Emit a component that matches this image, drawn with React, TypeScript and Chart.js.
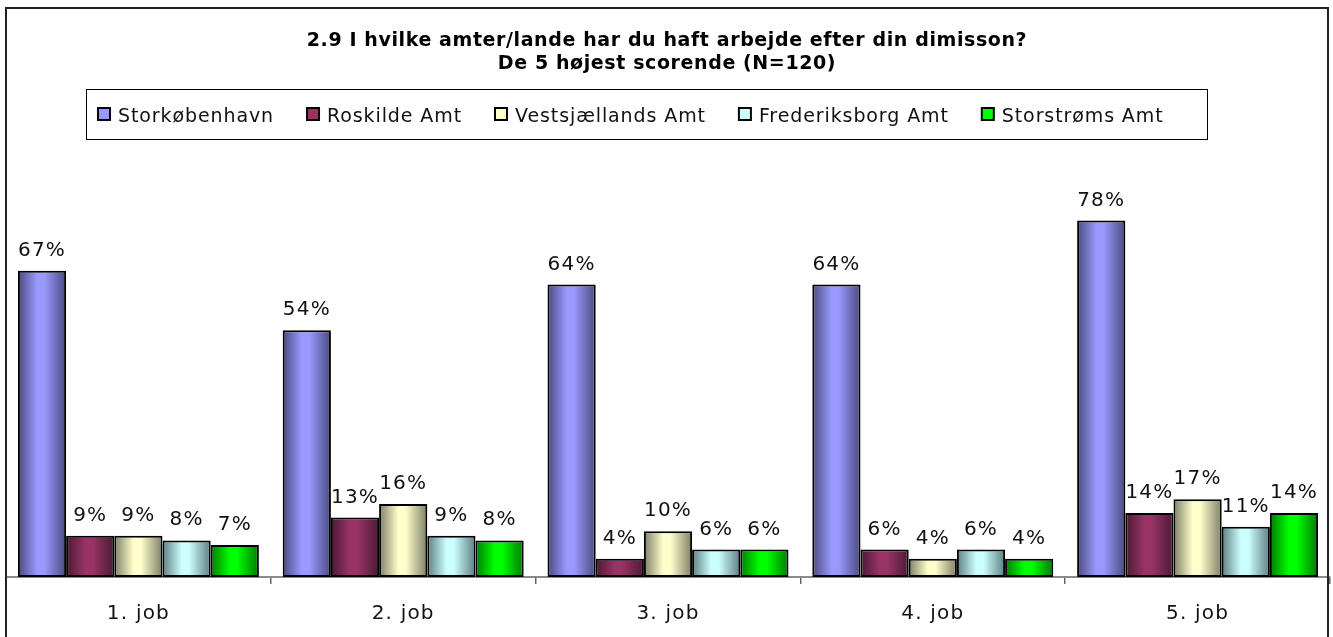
import React, { useEffect, useRef } from "react";
import { Chart, registerables } from "chart.js";

Chart.register(...registerables);

const titleLines = [
  "2.9 I hvilke amter/lande har du haft arbejde efter din dimisson?",
  "De 5 højest scorende (N=120)",
];
const categories = ["1. job", "2. job", "3. job", "4. job", "5. job"];
const seriesNames = [
  "Storkøbenhavn",
  "Roskilde Amt",
  "Vestsjællands Amt",
  "Frederiksborg Amt",
  "Storstrøms Amt",
];
const storkobenhavn = [67, 54, 64, 64, 78];
const roskilde = [9, 13, 4, 6, 14];
const vestsjaelland = [9, 16, 10, 4, 17];
const frederiksborg = [8, 9, 6, 6, 11];
const storstrom = [7, 8, 6, 4, 14];
const seriesValues = [storkobenhavn, roskilde, vestsjaelland, frederiksborg, storstrom];

const baseColors = ["#9999FF", "#993366", "#FFFFCC", "#CCFFFF", "#00FF00"];
const darkColors = ["#4a4a80", "#4a1a33", "#7e7e66", "#5e7e80", "#007a00"];

const FONT = "'DejaVu Sans', Verdana, sans-serif";

function gradientFill(i: number) {
  return (ctx: any) => {
    const el = ctx.element;
    if (!el || el.width == null || !isFinite(el.x)) return baseColors[i];
    const c = ctx.chart.ctx as CanvasRenderingContext2D;
    const x0 = el.x - el.width / 2;
    const x1 = el.x + el.width / 2;
    const g = c.createLinearGradient(x0, 0, x1, 0);
    g.addColorStop(0, darkColors[i]);
    g.addColorStop(0.4, baseColors[i]);
    g.addColorStop(0.55, baseColors[i]);
    g.addColorStop(1, darkColors[i]);
    return g;
  };
}

const chromePlugin = {
  id: "chrome",
  beforeDraw(chart: any) {
    const c = chart.ctx as CanvasRenderingContext2D;
    c.save();
    c.fillStyle = "#ffffff";
    c.fillRect(0, 0, chart.width, chart.height);
    c.restore();
  },
  afterDatasetsDraw(chart: any) {
    const c = chart.ctx as CanvasRenderingContext2D;
    c.save();
    (c as any).letterSpacing = "1.2px";
    c.font = `20px ${FONT}`;
    c.fillStyle = "#111111";
    c.textAlign = "center";
    c.textBaseline = "alphabetic";
    chart.data.datasets.forEach((ds: any, di: number) => {
      const meta = chart.getDatasetMeta(di);
      meta.data.forEach((el: any, idx: number) => {
        c.fillText(`${ds.data[idx]}%`, el.x, el.y - 15);
      });
    });
    // x category labels
    const xs = chart.scales.x;
    chart.data.labels.forEach((lab: string, idx: number) => {
      c.fillText(lab, xs.getPixelForValue(idx), 619);
    });
    c.restore();
  },
  afterDraw(chart: any) {
    const c = chart.ctx as CanvasRenderingContext2D;
    c.save();
    // outer frame
    c.strokeStyle = "#222222";
    c.lineWidth = 2;
    c.strokeRect(6, 8, 1322, 640);
    // title
    c.fillStyle = "#000000";
    c.textAlign = "center";
    c.font = `bold 19px ${FONT}`;
    (c as any).letterSpacing = "0.6px";
    c.fillText(titleLines[0], 667, 46);
    c.fillText(titleLines[1], 667, 69);
    // legend
    c.font = `19px ${FONT}`;
    (c as any).letterSpacing = "0.9px";
    c.textAlign = "left";
    c.lineWidth = 1;
    c.strokeStyle = "#000000";
    c.fillStyle = "#ffffff";
    c.strokeRect(86.5, 89.5, 1121, 50);
    let x = 98;
    chart.data.datasets.forEach((ds: any, di: number) => {
      c.fillStyle = baseColors[di];
      c.fillRect(x, 108, 12, 12);
      c.lineWidth = 2;
      c.strokeStyle = "#000000";
      c.strokeRect(x, 108, 12, 12);
      c.fillStyle = "#111111";
      c.fillText(ds.label, x + 20, 122);
      const w = c.measureText(ds.label).width;
      x = x + 20 + w + 33;
    });
    c.restore();
  },
};

export default function App() {
  const ref = useRef<HTMLCanvasElement | null>(null);
  useEffect(() => {
    if (!ref.current) return;
    const chart = new Chart(ref.current, {
      type: "bar",
      data: {
        labels: categories,
        datasets: seriesNames.map((name, i) => ({
          label: name,
          data: seriesValues[i],
          backgroundColor: gradientFill(i),
          borderColor: "#000000",
          borderWidth: 2,
          borderSkipped: false,
          categoryPercentage: 0.91,
          barPercentage: 1,
        })),
      },
      options: {
        animation: false,
        responsive: false,
        devicePixelRatio: 1,
        layout: { padding: { top: 120, left: 6, right: 3, bottom: 0 } },
        plugins: {
          legend: { display: false },
          title: { display: false },
          tooltip: { enabled: false },
        },
        scales: {
          x: {
            offset: true,
            grid: {
              offset: true,
              drawOnChartArea: false,
              drawTicks: true,
              tickLength: 7,
              color: "#666666",
              lineWidth: 1.5,
            },
            border: { display: true, color: "#8a8a8a", width: 2 },
            ticks: { display: false },
            afterFit: (scale: any) => {
              scale.height = 60;
            },
          },
          y: {
            display: false,
            min: 0,
            max: 100,
          },
        },
      },
      plugins: [chromePlugin],
    });
    chart.update();
    return () => chart.destroy();
  }, []);
  return (
    <div style={{ position: "absolute", left: 0, top: 0, width: 1333, height: 637 }}>
      <canvas ref={ref} width={1333} height={637} style={{ display: "block" }} />
    </div>
  );
}
